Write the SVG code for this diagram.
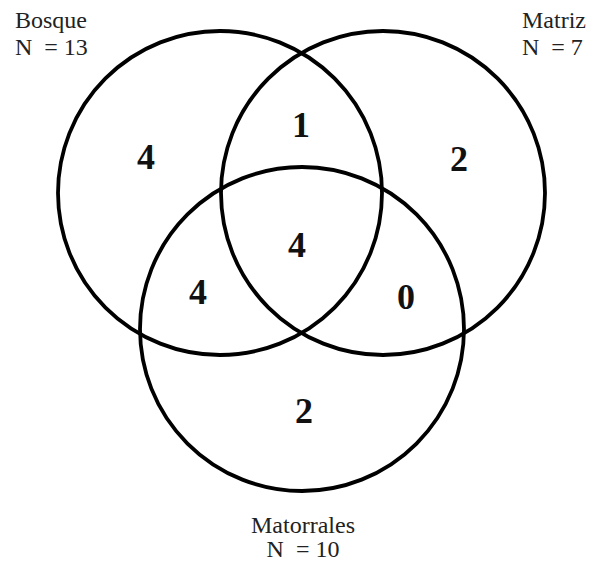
<svg xmlns="http://www.w3.org/2000/svg" width="595" height="562" viewBox="0 0 595 562">
<style>
.c{fill:none;stroke:#000;stroke-width:3.8}
.lbl{font-family:"Liberation Serif","Times New Roman",serif;font-size:24px;fill:#222;white-space:pre}
.num{font-family:"Liberation Serif","Times New Roman",serif;font-size:36px;font-weight:bold;fill:#111;text-anchor:middle}
</style>
<rect width="595" height="562" fill="#fff"/>
<g id="connectors"></g>
<g id="bosque">
<circle class="c" cx="220" cy="193" r="162"/>
<text class="lbl" x="15" y="28">Bosque</text>
<text class="lbl" x="15" y="55">N  = 13</text>
</g>
<g id="matriz">
<circle class="c" cx="383" cy="193" r="162"/>
<text class="lbl" x="522" y="28">Matriz</text>
<text class="lbl" x="522" y="55">N  = 7</text>
</g>
<g id="matorrales">
<circle class="c" cx="302" cy="329" r="162"/>
<text class="lbl" x="303" y="533" text-anchor="middle">Matorrales</text>
<text class="lbl" x="303" y="557" text-anchor="middle">N  = 10</text>
</g>
<g id="counts">
<text class="num" x="146" y="169">4</text>
<text class="num" x="301" y="137">1</text>
<text class="num" x="459" y="171">2</text>
<text class="num" x="297" y="257">4</text>
<text class="num" x="198" y="304">4</text>
<text class="num" x="406" y="309">0</text>
<text class="num" x="304" y="423">2</text>
</g>
</svg>
